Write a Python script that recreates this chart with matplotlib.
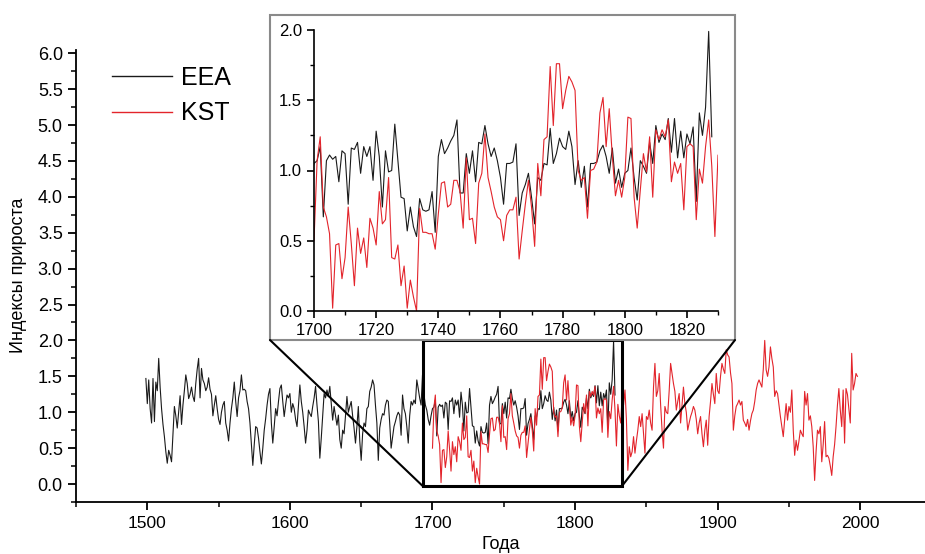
import numpy as np
import matplotlib
matplotlib.use("Agg")
import matplotlib.pyplot as plt
from matplotlib.patches import Rectangle, ConnectionPatch
from matplotlib.ticker import MultipleLocator, FormatStrFormatter

plt.rcParams['font.family'] = ['Liberation Sans', 'DejaVu Sans']

# EEA: 1499-1828
eea_start = 1499
eea = [
    1.47, 1.12, 1.45, 1.05, 0.85, 1.47, 0.87, 1.42, 1.30, 1.75,   # 1499-1508
    1.35, 1.05, 0.83, 0.66, 0.45, 0.29, 0.47, 0.40, 0.31, 0.70,   # 1509-1518
    1.08, 0.95, 0.78, 1.00, 1.23, 0.83, 1.10, 1.30, 1.52, 1.40,   # 1519-1528
    1.19, 1.25, 1.35, 1.22, 1.15, 1.40, 1.60, 1.75, 1.20, 1.61,   # 1529-1538
    1.45, 1.40, 1.30, 1.35, 1.48, 1.32, 1.25, 0.95, 1.10, 1.23,   # 1539-1548
    1.05, 0.90, 0.83, 1.00, 1.10, 1.15, 0.85, 0.75, 0.60, 0.85,   # 1549-1558
    1.05, 1.20, 1.42, 1.15, 0.94, 1.20, 1.30, 1.52, 1.31, 1.32,   # 1559-1568
    1.30, 1.15, 1.05, 0.85, 0.55, 0.26, 0.55, 0.80, 0.78, 0.64,   # 1569-1578
    0.45, 0.28, 0.50, 0.75, 0.91, 1.10, 1.25, 1.33, 0.85, 0.57,   # 1579-1588
    0.80, 1.05, 0.95, 1.15, 1.33, 1.38, 1.15, 0.94, 1.10, 1.24,   # 1589-1598
    1.20, 1.26, 1.00, 1.12, 1.05, 0.90, 0.80, 1.10, 1.38, 1.15,   # 1599-1608
    1.00, 0.80, 0.57, 0.75, 1.03, 0.98, 0.94, 1.08, 1.20, 1.36,   # 1609-1618
    1.10, 0.87, 0.36, 0.64, 0.95, 1.26, 1.20, 1.31, 1.22, 1.36,   # 1619-1628
    1.12, 0.89, 1.08, 0.95, 0.82, 0.96, 0.62, 0.50, 0.75, 0.70,   # 1629-1638
    0.95, 1.22, 1.00, 1.08, 1.15, 0.95, 0.78, 0.57, 0.80, 1.08,   # 1639-1648
    0.60, 0.33, 0.70, 0.85, 0.80, 1.05, 1.08, 1.29, 1.35, 1.45,   # 1649-1658
    1.38, 1.10, 0.85, 0.33, 0.78, 0.90, 0.98, 0.96, 1.10, 1.17,   # 1659-1668
    1.15, 0.85, 0.50, 0.65, 0.80, 0.87, 0.95, 1.00, 0.96, 0.68,   # 1669-1678
    1.24, 1.05, 0.98, 0.80, 0.57, 0.95, 1.15, 1.10, 1.17, 1.12,   # 1679-1688
    1.45, 1.33, 1.20, 1.10, 1.52, 1.25, 1.10, 1.03, 0.90, 0.82,   # 1689-1698
    0.95, 1.05, 1.07, 1.17, 0.67, 1.07, 1.11, 1.08, 1.10, 0.92,   # 1699-1708
    1.14, 1.12, 0.76, 1.16, 1.15, 1.20, 0.98, 1.17, 1.10, 1.17,   # 1709-1718
    0.93, 1.28, 1.10, 0.74, 1.14, 0.99, 1.00, 1.33, 1.07, 0.81,   # 1719-1728
    0.80, 0.57, 0.74, 0.60, 0.53, 0.80, 0.72, 0.71, 0.72, 0.85,   # 1729-1738
    0.56, 1.10, 1.22, 1.12, 1.16, 1.21, 1.25, 1.36, 0.84, 0.84,   # 1739-1748
    1.12, 0.98, 1.14, 0.92, 1.20, 1.19, 1.32, 1.19, 1.10, 1.16,   # 1749-1758
    1.07, 0.95, 0.76, 1.05, 1.05, 1.06, 1.19, 0.68, 0.84, 0.90,   # 1759-1768
    0.98, 0.81, 0.62, 0.95, 0.93, 1.05, 1.04, 1.30, 1.05, 1.12,   # 1769-1778
    1.23, 1.17, 1.15, 1.28, 1.17, 0.90, 1.07, 0.88, 1.03, 0.74,   # 1779-1788
    1.05, 1.05, 1.06, 1.14, 1.18, 1.10, 0.98, 1.16, 0.91, 1.01,   # 1789-1798
    0.88, 0.98, 1.00, 1.16, 0.95, 0.79, 1.07, 1.03, 0.98, 1.20,   # 1799-1808
    1.05, 1.32, 1.20, 1.26, 1.22, 1.37, 1.13, 1.37, 1.09, 1.28,   # 1809-1818
    1.09, 1.26, 1.19, 1.31, 0.78, 1.41, 1.25, 1.45, 1.99, 1.24,   # 1819-1828
]

# KST: 1700-1998
kst_start = 1700
kst = [
    0.50, 1.07, 1.24, 0.74, 0.67, 0.55, 0.02, 0.47, 0.48, 0.23,   # 1700-1709
    0.38, 0.74, 0.48, 0.18, 0.59, 0.41, 0.52, 0.31, 0.66, 0.59,   # 1710-1719
    0.47, 0.85, 0.62, 0.65, 0.95, 0.38, 0.37, 0.47, 0.18, 0.32,   # 1720-1729
    0.02, 0.22, 0.10, 0.00, 0.73, 0.56, 0.56, 0.55, 0.55, 0.44,   # 1730-1739
    0.69, 0.91, 0.92, 0.74, 0.76, 0.93, 0.93, 0.85, 0.59, 1.09,   # 1740-1749
    0.65, 0.66, 0.48, 0.91, 0.98, 1.26, 0.95, 0.85, 0.74, 0.67,   # 1750-1759
    0.65, 0.50, 0.68, 0.72, 0.72, 0.81, 0.37, 0.57, 0.76, 0.93,   # 1760-1769
    0.74, 0.46, 1.05, 0.82, 1.22, 1.24, 1.74, 1.32, 1.76, 1.76,   # 1770-1779
    1.44, 1.57, 1.67, 1.63, 1.57, 1.00, 0.93, 0.95, 0.66, 1.00,   # 1780-1789
    1.01, 1.06, 1.41, 1.52, 1.17, 1.44, 1.10, 0.82, 0.93, 0.81,   # 1790-1799
    0.95, 1.38, 1.37, 0.81, 0.59, 0.86, 1.12, 0.99, 1.24, 0.81,   # 1800-1809
    1.29, 1.22, 1.29, 1.24, 1.36, 0.92, 1.06, 0.98, 1.05, 0.72,   # 1810-1819
    1.17, 1.19, 1.17, 0.65, 1.01, 0.91, 1.17, 1.36, 1.03, 0.53,   # 1820-1829
    1.11, 0.95, 0.85, 1.22, 1.10, 1.31, 0.90, 0.19, 0.52, 0.38,   # 1830-1839
    0.45, 0.66, 0.43, 0.60, 0.75, 0.94, 0.80, 0.98, 0.70, 0.43,   # 1840-1849
    0.94, 0.90, 1.03, 0.85, 0.75, 1.35, 1.68, 1.22, 1.30, 1.54,   # 1850-1859
    1.10, 0.75, 0.50, 1.08, 1.00, 0.98, 1.30, 1.68, 1.54, 1.40,   # 1860-1869
    1.29, 1.03, 1.15, 1.26, 0.85, 1.10, 1.35, 1.12, 1.00, 0.75,   # 1870-1879
    0.85, 0.94, 1.00, 1.08, 1.03, 0.90, 0.70, 0.85, 0.94, 0.70,   # 1880-1889
    0.52, 0.75, 0.89, 0.54, 0.94, 1.15, 1.40, 1.25, 1.12, 1.54,   # 1890-1899
    1.30, 1.26, 1.50, 1.68, 1.60, 1.54, 1.87, 1.80, 1.77, 1.55,   # 1900-1909
    1.40, 0.75, 0.95, 1.08, 1.12, 1.17, 1.10, 1.15, 0.89, 0.85,   # 1910-1919
    0.80, 0.90, 0.75, 0.88, 0.98, 1.03, 1.15, 1.31, 1.40, 1.45,   # 1920-1929
    1.40, 1.35, 1.60, 2.00, 1.59, 1.50, 1.63, 1.91, 1.75, 1.63,   # 1930-1939
    1.22, 1.30, 1.26, 1.10, 0.94, 0.80, 0.66, 0.90, 1.12, 0.89,   # 1940-1949
    1.08, 1.00, 1.31, 0.75, 0.40, 0.61, 0.47, 0.60, 0.75, 0.70,   # 1950-1959
    0.66, 1.29, 1.10, 1.26, 0.89, 0.95, 0.80, 0.52, 0.05, 0.45,   # 1960-1969
    0.75, 0.70, 0.80, 0.31, 0.55, 0.87, 0.38, 0.40, 0.36, 0.25,   # 1970-1979
    0.12, 0.38, 0.55, 0.80, 1.10, 1.33, 1.03, 0.80, 1.31, 0.57,   # 1980-1989
    1.33, 1.25, 1.05, 0.85, 1.82, 1.31, 1.40, 1.54, 1.50,         # 1990-1998
]

eea_years = np.arange(eea_start, eea_start + len(eea))
kst_years = np.arange(kst_start, kst_start + len(kst))

eea_color = "#1a1a1a"
kst_color = "#e3242b"

fig = plt.figure(figsize=(9.25, 5.54), dpi=100)

# main axes
ax = fig.add_axes([76/925, 1 - 502/554, 1 - 76/925, (502 - 49.6)/554])
ax.plot(eea_years, eea, color=eea_color, lw=0.8, label="EEA")
ax.plot(kst_years, kst, color=kst_color, lw=0.8, label="KST")
ax.set_xlim(1450, 2045.4)
ax.set_ylim(-0.25, 6.05)
ax.spines["top"].set_visible(False)
ax.spines["right"].set_visible(False)
ax.spines["left"].set_linewidth(1.3)
ax.spines["bottom"].set_linewidth(1.3)
ax.xaxis.set_major_locator(MultipleLocator(100))
ax.xaxis.set_minor_locator(MultipleLocator(50))
ax.yaxis.set_major_locator(MultipleLocator(0.5))
ax.yaxis.set_minor_locator(MultipleLocator(0.25))
ax.yaxis.set_major_formatter(FormatStrFormatter("%.1f"))
ax.set_yticks(np.arange(0, 6.01, 0.5))
ax.tick_params(which="major", direction="out", length=6, width=1.3, labelsize=13)
ax.tick_params(which="minor", direction="out", length=3.5, width=1.1)
ax.tick_params(axis="x", labelsize=12.5, pad=4)
ax.set_xlabel("Года", fontsize=13, labelpad=4)
ax.set_ylabel("Индексы прироста", fontsize=13, labelpad=8)

leg = ax.legend(loc="upper left", bbox_to_anchor=(112/925, 1 - 66/554),
                bbox_transform=fig.transFigure, frameon=False, fontsize=18,
                handlelength=2.4, handletextpad=0.35, labelspacing=0.45,
                borderpad=0, borderaxespad=0)
for h in leg.get_lines():
    h.set_linewidth(1.0)

# zoom rectangle on main axes
ax.add_patch(Rectangle((1693, -0.025), 140, 2.025, fill=False,
                       edgecolor="black", lw=2.2, zorder=5))

# inset frame
fl, ft, fr, fb = 270/925, 1 - 15/554, 735/925, 1 - 340/554
frame = Rectangle((fl, fb), fr - fl, ft - fb, transform=fig.transFigure,
                  facecolor="white", edgecolor="#8a8a8a", lw=1.5, zorder=3)
fig.add_artist(frame)

for fx, dx in [(fl, 1693), (fr, 1833)]:
    con = ConnectionPatch(xyA=(fx, fb), coordsA=fig.transFigure,
                          xyB=(dx, -0.025), coordsB=ax.transData,
                          color="black", lw=1.5, zorder=4)
    fig.add_artist(con)

# inset axes
ins = fig.add_axes([314/925, 1 - 311/554, (718 - 314)/925, (311 - 30)/554])
ins.set_zorder(6)
ins.patch.set_alpha(0)
ins.plot(eea_years, eea, color=eea_color, lw=0.8)
ins.plot(kst_years, kst, color=kst_color, lw=0.8)
ins.set_xlim(1700, 1830)
ins.set_ylim(0, 2.0)
ins.spines["top"].set_visible(False)
ins.spines["right"].set_visible(False)
ins.spines["left"].set_linewidth(1.2)
ins.spines["bottom"].set_linewidth(1.2)
ins.xaxis.set_major_locator(MultipleLocator(20))
ins.xaxis.set_minor_locator(MultipleLocator(10))
ins.yaxis.set_major_locator(MultipleLocator(0.5))
ins.yaxis.set_minor_locator(MultipleLocator(0.25))
ins.yaxis.set_major_formatter(FormatStrFormatter("%.1f"))
ins.set_xticks(np.arange(1700, 1821, 20))
ins.tick_params(which="major", direction="out", length=5, width=1.2, labelsize=12)
ins.tick_params(which="minor", direction="out", length=3, width=1.0)

fig.savefig("out.png", dpi=100)
